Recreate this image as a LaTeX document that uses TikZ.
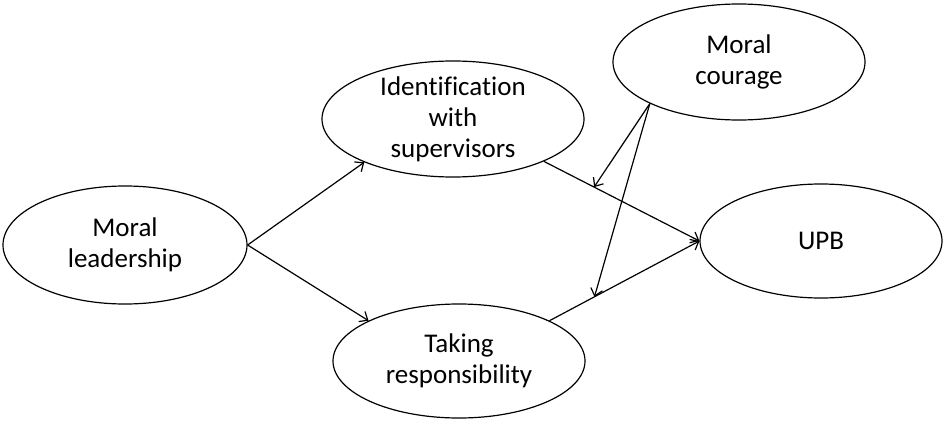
\documentclass[tikz,border=0pt]{standalone}
\usepackage{fontspec}
\setmainfont[Ligatures=NoCommon]{Carlito}
\usetikzlibrary{shapes.geometric,arrows.meta}
\begin{document}
\begin{tikzpicture}[x=1pt,y=-1pt,
  oval/.style={draw, ellipse, line width=1.2pt, inner sep=0pt},
  lbl/.style={align=center, font=\fontsize{27}{31}\selectfont, inner sep=0pt},
  arr/.style={line width=1.2pt, -{Straight Barb[length=7pt,width=12pt,line width=1.2pt]}}]
\useasboundingbox (0,0) rectangle (950,428);
% ellipses
\node[oval, minimum width=244pt, minimum height=118pt] (ml) at (125,245) {};
\node[oval, minimum width=262pt, minimum height=116pt] (id) at (453,119) {};
\node[oval, minimum width=252pt, minimum height=114pt] (tr) at (459,361) {};
\node[oval, minimum width=252pt, minimum height=116pt] (mc) at (739,62) {};
\node[oval, minimum width=242pt, minimum height=114pt] (upb) at (821,241) {};
% labels
\node[lbl] (mlt) at (ml.center) {Moral\\leadership};
\node[lbl] (idt) at (id.center) {Identification\\with\\supervisors};
\node[lbl] (trt) at (tr.center) {Taking\\responsibility};
\node[lbl] (mct) at (mc.center) {Moral\\courage};
\node[lbl] (upbt) at (upb.center) {UPB};
% connectors
\draw[arr] (ml.east) -- (id.206);
\draw[arr] (ml.east) -- (tr.156);
\draw[arr] (id.335) -- (upb.west) coordinate[pos=0.323] (m1);
\draw[arr] (tr.24) -- (upb.west) coordinate[pos=0.30] (m2);
\draw[arr] (mc.205.5) -- (m1);
\draw[arr] (mc.205.5) -- (m2);
\end{tikzpicture}
\end{document}
